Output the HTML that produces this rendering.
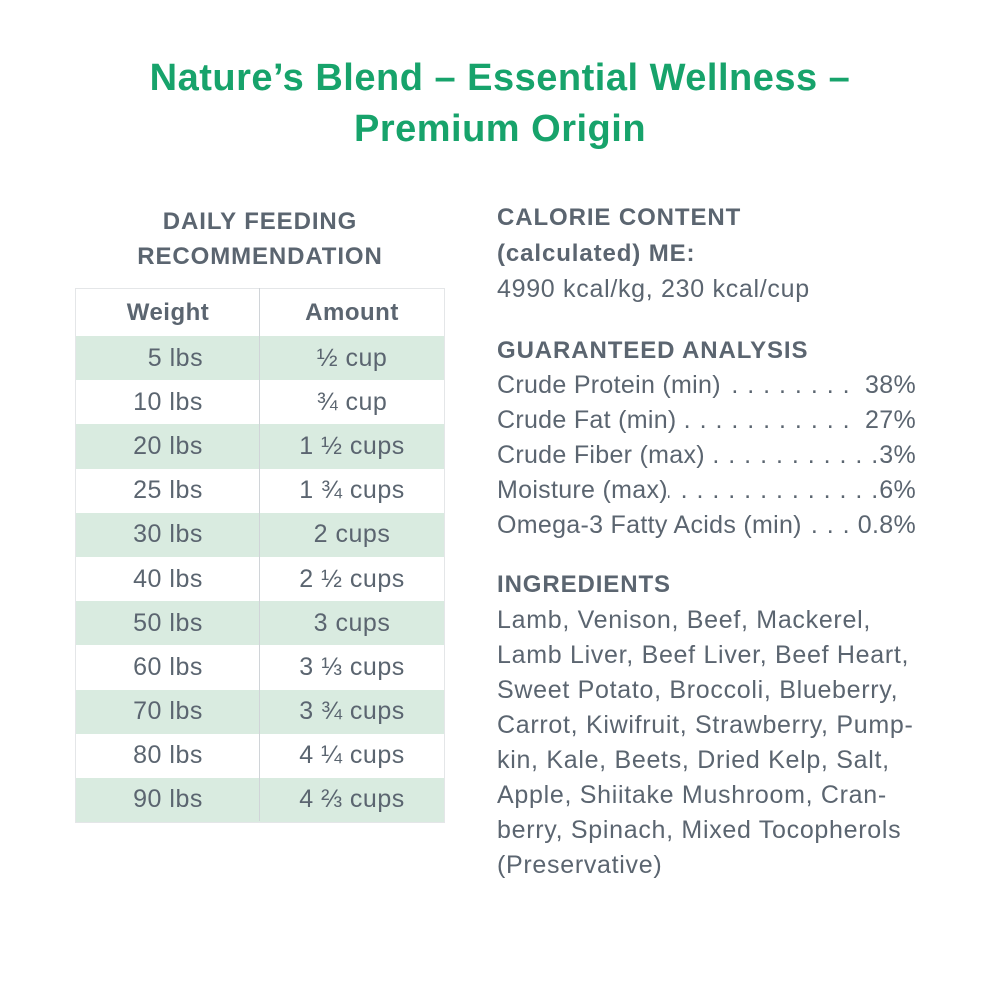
<!DOCTYPE html>
<html><head><meta charset="utf-8"><style>
body{margin:0;background:#fff;}
#p{position:relative;width:1000px;height:1000px;overflow:hidden;font-family:"Liberation Sans",sans-serif;color:#5b6570;}
.t{position:absolute;white-space:pre;line-height:1;}
.title{left:0;width:1000px;text-align:center;font-weight:bold;color:#17a36b;font-size:38px;letter-spacing:0.5px;}
.h{font-weight:bold;font-size:24px;letter-spacing:0.9px;color:#5b6570;}
.b{font-size:25px;letter-spacing:0.7px;}
.tb{position:absolute;left:75px;top:288px;width:368px;border:1px solid #e4e6e8;}
.tr{display:flex;height:44.2px;align-items:center;}
.tr.hd{height:47px;font-weight:bold;font-size:24px;}
.tr div{width:184px;text-align:center;font-size:25px;letter-spacing:0.5px;}
.tr.hd div{font-size:24px;}
.tr.g{background:#d9ebe0;}
.vl{position:absolute;left:259px;top:288px;width:1px;height:533px;background:#d0d4d8;}
.row{position:absolute;left:497px;width:419px;display:flex;font-size:25px;letter-spacing:0.3px;line-height:1;white-space:pre;}
.row .d{flex:1;overflow:hidden;letter-spacing:1px;direction:rtl;text-align:right;}
</style></head><body><div id="p">
<div class="t title" style="top:59px">Nature’s Blend – Essential Wellness –</div>
<div class="t title" style="top:110px">Premium Origin</div>
<div class="t h" style="left:75px;width:370px;text-align:center;top:210px">DAILY FEEDING</div>
<div class="t h" style="left:75px;width:370px;text-align:center;top:245px">RECOMMENDATION</div>
<div class="tb">
<div class="tr hd"><div>Weight</div><div>Amount</div></div>
<div class="tr g"><div>&nbsp;&nbsp;5 lbs</div><div>½ cup</div></div>
<div class="tr"><div>10 lbs</div><div>¾ cup</div></div>
<div class="tr g"><div>20 lbs</div><div>1 ½ cups</div></div>
<div class="tr"><div>25 lbs</div><div>1 ¾ cups</div></div>
<div class="tr g"><div>30 lbs</div><div>2 cups</div></div>
<div class="tr"><div>40 lbs</div><div>2 ½ cups</div></div>
<div class="tr g"><div>50 lbs</div><div>3 cups</div></div>
<div class="tr"><div>60 lbs</div><div>3 ⅓ cups</div></div>
<div class="tr g"><div>70 lbs</div><div>3 ¾ cups</div></div>
<div class="tr"><div>80 lbs</div><div>4 ¼ cups</div></div>
<div class="tr g"><div>90 lbs</div><div>4 ⅔ cups</div></div>
</div>
<div class="vl"></div>
<div class="t h" style="left:497px;top:206px">CALORIE CONTENT</div>
<div class="t h" style="left:497px;top:242px">(calculated) ME:</div>
<div class="t b" style="left:497px;top:277px">4990 kcal/kg, 230 kcal/cup</div>
<div class="t h" style="left:497px;top:339px">GUARANTEED ANALYSIS</div>
<div class="row" style="top:373px"><span>Crude Protein (min)</span><span class="d">. . . . . . . . . . . . . . . . . . . . . . . . .</span><span>  38%</span></div>
<div class="row" style="top:408px"><span>Crude Fat (min) </span><span class="d">. . . . . . . . . . . . . . . . . . . . . . . . .</span><span>  27%</span></div>
<div class="row" style="top:443px"><span>Crude Fiber (max)</span><span class="d">. . . . . . . . . . . . . . . . . . . . . . . . .</span><span>3%</span></div>
<div class="row" style="top:478px"><span>Moisture (max)</span><span class="d">. . . . . . . . . . . . . . . . . . . . . . . . . . .</span><span>6%</span></div>
<div class="row" style="top:513px"><span>Omega-3 Fatty Acids (min) </span><span class="d">. . . . . . . . . . . .</span><span> 0.8%</span></div>
<div class="t h" style="left:497px;top:573px">INGREDIENTS</div>
<div class="t b" style="left:497px;top:608px">Lamb, Venison, Beef, Mackerel,</div>
<div class="t b" style="left:497px;top:643px">Lamb Liver, Beef Liver, Beef Heart,</div>
<div class="t b" style="left:497px;top:678px">Sweet Potato, Broccoli, Blueberry,</div>
<div class="t b" style="left:497px;top:713px">Carrot, Kiwifruit, Strawberry, Pump-</div>
<div class="t b" style="left:497px;top:748px">kin, Kale, Beets, Dried Kelp, Salt,</div>
<div class="t b" style="left:497px;top:783px">Apple, Shiitake Mushroom, Cran-</div>
<div class="t b" style="left:497px;top:818px">berry, Spinach, Mixed Tocopherols</div>
<div class="t b" style="left:497px;top:853px">(Preservative)</div>
</div></body></html>
